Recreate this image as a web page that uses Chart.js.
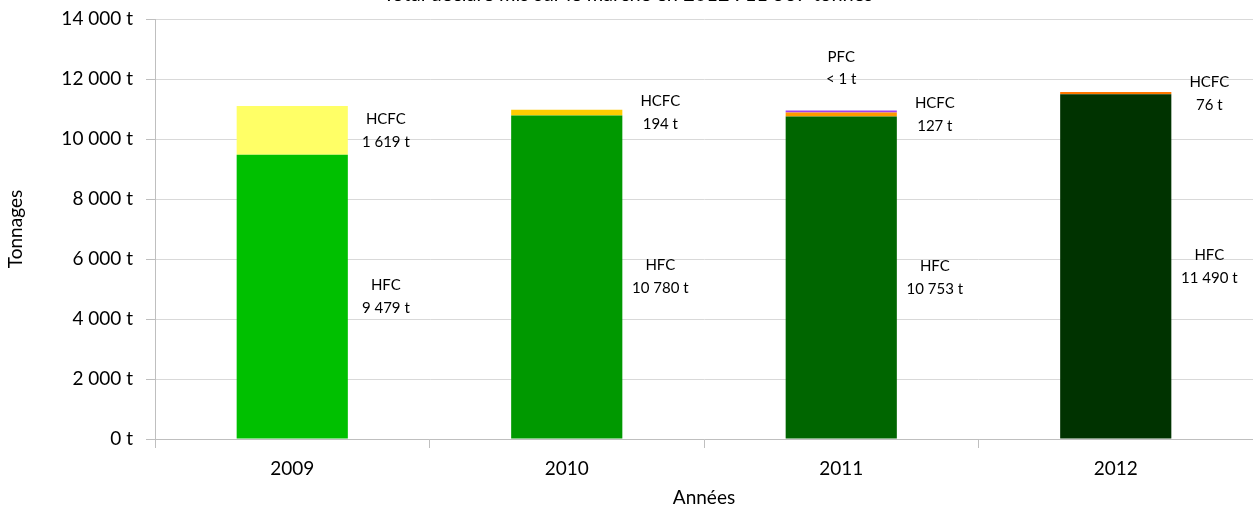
<!DOCTYPE html>
<html>
<head>
<meta charset="utf-8">
<script src="https://cdn.jsdelivr.net/npm/chart.js@4/dist/chart.umd.min.js"></script>
<style>
  html, body { margin: 0; padding: 0; background: #fff; }
  #wrap { width: 1253px; height: 513px; position: relative; }
</style>
</head>
<body>
<div id="wrap"><canvas id="c"></canvas></div>
<script>
const years = ['2009', '2010', '2011', '2012'];
const hfcValues = [9479, 10780, 10753, 11490];
const hcfcValues = [1619, 194, 127, 76];
const pfcValues = [null, null, 0.5, null];
const hfcLabels = ['9 479 t', '10 780 t', '10 753 t', '11 490 t'];
const hcfcLabels = ['1 619 t', '194 t', '127 t', '76 t'];
const pfcLabels = [null, null, '< 1 t', null];
const yTickValues = [0, 2000, 4000, 6000, 8000, 10000, 12000, 14000];
const titleText = 'Total déclaré mis sur le marché en 2012 : 11 567 tonnes';
const yAxisTitle = 'Tonnages';
const xAxisTitle = 'Années';

const hfcColors = ['#00C000', '#009900', '#006600', '#003300'];
const hcfcColors = ['#FFFF66', '#FFCC00', '#FF9900', '#FF7700'];
const pfcColor = '#A040F0';
const FONT = 'Lato, "Liberation Sans", sans-serif';

function fmt(v) {
  return String(v).replace(/\B(?=(\d{3})+(?!\d))/g, ' ') + ' t';
}

const labelPlugin = {
  id: 'labels',
  afterDraw(chart) {
    const ctx = chart.ctx;
    ctx.save();
    ctx.fillStyle = '#000';
    ctx.textAlign = 'center';
    ctx.textBaseline = 'middle';
    ctx.font = '20px ' + FONT;
    ctx.fillText(titleText, 628, -5);

    ctx.font = '15px ' + FONT;
    const m0 = chart.getDatasetMeta(0);
    const m1 = chart.getDatasetMeta(1);
    const m2 = chart.getDatasetMeta(2);
    const lh = 23;
    years.forEach((y, i) => {
      const e0 = m0.data[i];
      const lx = e0.x + e0.width / 2 + 38;
      const my0 = (e0.y + e0.base) / 2;
      ctx.fillText('HFC', lx, my0 - lh / 2);
      ctx.fillText(hfcLabels[i], lx, my0 + lh / 2);
      const e1 = m1.data[i];
      const my1 = (e1.y + e1.base) / 2;
      ctx.fillText('HCFC', lx, my1 - lh / 2);
      ctx.fillText(hcfcLabels[i], lx, my1 + lh / 2);
      if (pfcLabels[i]) {
        const e2 = m2.data[i];
        ctx.fillText('PFC', e2.x, e2.y - 53);
        ctx.fillText(pfcLabels[i], e2.x, e2.y - 31);
      }
    });
    ctx.restore();
  }
};

new Chart(document.getElementById('c'), {
  type: 'bar',
  data: {
    labels: years,
    datasets: [
      { label: 'HFC', data: hfcValues, backgroundColor: hfcColors, borderWidth: 0 },
      { label: 'HCFC', data: hcfcValues, backgroundColor: hcfcColors, borderWidth: 0 },
      { label: 'PFC', data: pfcValues, backgroundColor: pfcColor, borderWidth: 0, minBarLength: 2 }
    ]
  },
  options: {
    responsive: true,
    maintainAspectRatio: false,
    animation: false,
    events: [],
    layout: { padding: { top: 19, right: 0, left: 0, bottom: 0 } },
    datasets: { bar: { categoryPercentage: 1, barPercentage: 0.405 } },
    plugins: { legend: { display: false }, tooltip: { enabled: false }, title: { display: false } },
    scales: {
      x: {
        stacked: true,
        offset: true,
        grid: { display: true, drawOnChartArea: false, drawTicks: true, tickLength: 9, color: '#BFBFBF', offset: true },
        border: { color: '#BFBFBF' },
        ticks: { color: '#000', font: { family: FONT, size: 19 }, padding: 9 },
        title: { display: true, text: xAxisTitle, color: '#000', font: { family: FONT, size: 19 }, padding: { top: 2, bottom: 4 } },
        afterFit(s) { s.height = 74; s.paddingLeft = 0; s.paddingRight = 0; }
      },
      y: {
        stacked: true,
        min: 0,
        max: 14000,
        afterBuildTicks(s) { s.ticks = yTickValues.map(v => ({ value: v })); },
        grid: { color: '#D9D9D9', drawTicks: true, tickLength: 9, tickColor: '#BFBFBF' },
        border: { color: '#BFBFBF' },
        ticks: { color: '#000', font: { family: FONT, size: 19 }, padding: 13, callback: v => fmt(v) },
        title: { display: true, text: yAxisTitle, color: '#000', font: { family: FONT, size: 19 }, padding: { top: 4, bottom: 8 } },
        afterFit(s) { s.width = 155; s.paddingTop = 0; s.paddingBottom = 0; }
      }
    }
  },
  plugins: [labelPlugin]
});
</script>
</body>
</html>
